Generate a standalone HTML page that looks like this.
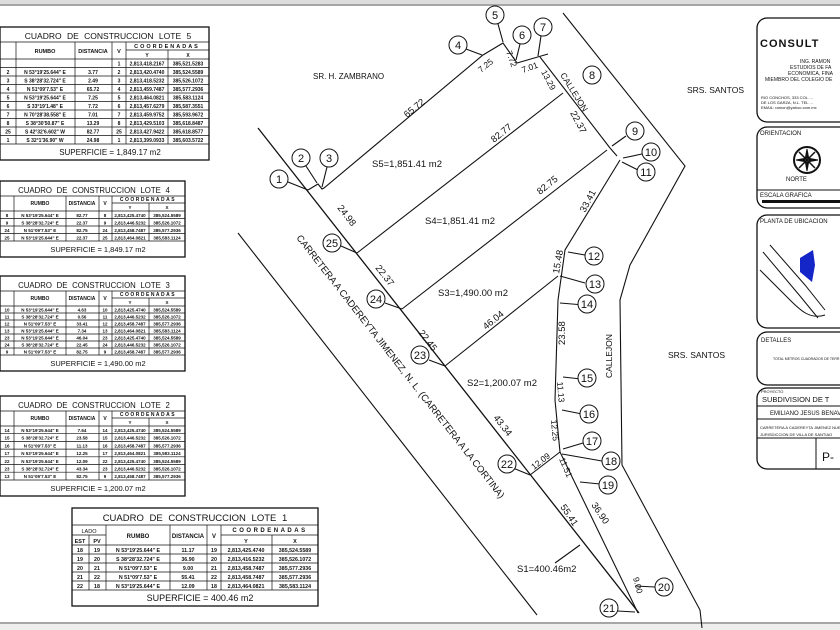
<!DOCTYPE html>
<html><head><meta charset="utf-8"><style>
html,body{margin:0;padding:0;background:#fff;width:840px;height:630px;overflow:hidden}
svg{display:block;font-family:"Liberation Sans",sans-serif}
.t line{stroke:#111;stroke-width:.7}
.t text{fill:#111;font-weight:bold;text-anchor:middle}
.c circle{fill:#fff;stroke:#111;stroke-width:1}
.c text{fill:#111;font-size:11px;text-anchor:middle}
</style></head><body>
<svg width="840" height="630" viewBox="0 0 840 630" xmlns="http://www.w3.org/2000/svg">
<rect x="0" y="0" width="840" height="4" fill="#ddd"/>
<line x1="0" y1="5" x2="840" y2="5" stroke="#888" stroke-width="1.5"/>
<line x1="0" y1="623" x2="840" y2="623" stroke="#888" stroke-width="1.5"/>
<rect x="0" y="624" width="840" height="6" fill="#eee"/>

<!-- TABLE LOTE 5 -->
<g class="t">
<rect x="0" y="27" width="209" height="133" fill="#fff" stroke="#111" stroke-width="1.3"/>
<line x1="0" y1="42" x2="209" y2="42"/><line x1="0" y1="59" x2="209" y2="59"/><line x1="0" y1="144" x2="209" y2="144"/>
<line x1="126" y1="50" x2="209" y2="50"/>
<line x1="16" y1="42" x2="16" y2="144"/><line x1="75" y1="42" x2="75" y2="144"/><line x1="112" y1="42" x2="112" y2="144"/><line x1="126" y1="42" x2="126" y2="144"/><line x1="168" y1="50" x2="168" y2="144"/>
<line x1="0" y1="67.5" x2="209" y2="67.5"/><line x1="0" y1="76" x2="209" y2="76"/><line x1="0" y1="84.5" x2="209" y2="84.5"/><line x1="0" y1="93" x2="209" y2="93"/><line x1="0" y1="101.5" x2="209" y2="101.5"/><line x1="0" y1="110" x2="209" y2="110"/><line x1="0" y1="118.5" x2="209" y2="118.5"/><line x1="0" y1="127" x2="209" y2="127"/><line x1="0" y1="135.5" x2="209" y2="135.5"/>
<text x="108" y="39" font-size="8.5" style="font-weight:normal" word-spacing="3">CUADRO DE CONSTRUCCION LOTE 5</text>
<text x="45" y="53" font-size="5.5">RUMBO</text><text x="93" y="53" font-size="5.5">DISTANCIA</text><text x="119" y="53" font-size="5.5">V</text>
<text x="167" y="48" font-size="5.5" letter-spacing="2">COORDENADAS</text><text x="147" y="57" font-size="5">Y</text><text x="188" y="57" font-size="5">X</text>
<g font-size="5">
<text x="119" y="65.5">1</text><text x="147" y="65.5">2,813,418.2167</text><text x="188" y="65.5">385,521.5283</text>
<text x="8" y="74">2</text><text x="45" y="74">N 53°19'25.644" E</text><text x="93" y="74">3.77</text><text x="119" y="74">2</text><text x="147" y="74">2,813,420.4740</text><text x="188" y="74">385,524.5589</text>
<text x="8" y="82.5">3</text><text x="45" y="82.5">S 38°28'32.724" E</text><text x="93" y="82.5">2.49</text><text x="119" y="82.5">3</text><text x="147" y="82.5">2,813,418.5232</text><text x="188" y="82.5">385,526.1072</text>
<text x="8" y="91">4</text><text x="45" y="91">N 51°09'7.53" E</text><text x="93" y="91">65.72</text><text x="119" y="91">4</text><text x="147" y="91">2,813,459.7487</text><text x="188" y="91">385,577.2936</text>
<text x="8" y="99.5">5</text><text x="45" y="99.5">N 53°19'25.644" E</text><text x="93" y="99.5">7.25</text><text x="119" y="99.5">5</text><text x="147" y="99.5">2,813,464.0821</text><text x="188" y="99.5">385,583.1124</text>
<text x="8" y="108">6</text><text x="45" y="108">S 33°19'1.48" E</text><text x="93" y="108">7.72</text><text x="119" y="108">6</text><text x="147" y="108">2,813,457.6279</text><text x="188" y="108">385,587.3551</text>
<text x="8" y="116.5">7</text><text x="45" y="116.5">N 70°28'38.558" E</text><text x="93" y="116.5">7.01</text><text x="119" y="116.5">7</text><text x="147" y="116.5">2,813,459.9752</text><text x="188" y="116.5">385,593.9672</text>
<text x="8" y="125">8</text><text x="45" y="125">S 38°30'50.87" E</text><text x="93" y="125">13.29</text><text x="119" y="125">8</text><text x="147" y="125">2,813,429.5103</text><text x="188" y="125">385,618.8487</text>
<text x="8" y="133.5">25</text><text x="45" y="133.5">S 42°32'6.602" W</text><text x="93" y="133.5">82.77</text><text x="119" y="133.5">25</text><text x="147" y="133.5">2,813,427.9422</text><text x="188" y="133.5">385,618.8577</text>
<text x="8" y="142">1</text><text x="45" y="142">S 32°1'36.90" W</text><text x="93" y="142">24.98</text><text x="119" y="142">1</text><text x="147" y="142">2,813,399.0933</text><text x="188" y="142">385,603.5722</text>
</g>
<text x="110" y="155" font-size="8" style="font-weight:normal">SUPERFICIE  =  1,849.17  m2</text>
</g>

<!-- TABLE LOTE 4 -->
<g class="t">
<rect x="0" y="181" width="185" height="76" fill="#fff" stroke="#111" stroke-width="1.3"/>
<line x1="0" y1="196" x2="185" y2="196"/><line x1="0" y1="211" x2="185" y2="211"/><line x1="0" y1="241" x2="185" y2="241"/>
<line x1="112" y1="203" x2="185" y2="203"/>
<line x1="14" y1="196" x2="14" y2="241"/><line x1="66" y1="196" x2="66" y2="241"/><line x1="99" y1="196" x2="99" y2="241"/><line x1="112" y1="196" x2="112" y2="241"/><line x1="149" y1="203" x2="149" y2="241"/>
<line x1="0" y1="218.5" x2="185" y2="218.5"/><line x1="0" y1="226" x2="185" y2="226"/><line x1="0" y1="233.5" x2="185" y2="233.5"/>
<text x="94" y="193" font-size="7.8" style="font-weight:normal" word-spacing="2.5">CUADRO DE CONSTRUCCION LOTE 4</text>
<text x="40" y="205" font-size="5">RUMBO</text><text x="82" y="205" font-size="5">DISTANCIA</text><text x="105" y="205" font-size="5">V</text>
<text x="148" y="201" font-size="5" letter-spacing="1.5">COORDENADAS</text><text x="130" y="209" font-size="4.5">Y</text><text x="167" y="209" font-size="4.5">X</text>
<g font-size="4.5">
<text x="7" y="217">8</text><text x="40" y="217">N 53°19'25.644" E</text><text x="82" y="217">82.77</text><text x="105" y="217">8</text><text x="130" y="217">2,813,425.4740</text><text x="167" y="217">385,524.5589</text>
<text x="7" y="224.5">9</text><text x="40" y="224.5">S 38°28'32.724" E</text><text x="82" y="224.5">22.37</text><text x="105" y="224.5">9</text><text x="130" y="224.5">2,813,446.5232</text><text x="167" y="224.5">385,526.1072</text>
<text x="7" y="232">24</text><text x="40" y="232">N 51°09'7.53" E</text><text x="82" y="232">82.75</text><text x="105" y="232">24</text><text x="130" y="232">2,813,458.7487</text><text x="167" y="232">385,577.2936</text>
<text x="7" y="239.5">25</text><text x="40" y="239.5">N 53°19'25.644" E</text><text x="82" y="239.5">22.37</text><text x="105" y="239.5">25</text><text x="130" y="239.5">2,813,464.0821</text><text x="167" y="239.5">385,583.1124</text>
</g>
<text x="98" y="252" font-size="7.5" style="font-weight:normal">SUPERFICIE  =  1,849.17  m2</text>
</g>

<!-- TABLE LOTE 3 -->
<g class="t">
<rect x="0" y="276" width="185" height="95" fill="#fff" stroke="#111" stroke-width="1.3"/>
<line x1="0" y1="291" x2="185" y2="291"/><line x1="0" y1="306" x2="185" y2="306"/><line x1="0" y1="355" x2="185" y2="355"/>
<line x1="112" y1="298" x2="185" y2="298"/>
<line x1="14" y1="291" x2="14" y2="355"/><line x1="66" y1="291" x2="66" y2="355"/><line x1="99" y1="291" x2="99" y2="355"/><line x1="112" y1="291" x2="112" y2="355"/><line x1="149" y1="298" x2="149" y2="355"/>
<line x1="0" y1="313" x2="185" y2="313"/><line x1="0" y1="320" x2="185" y2="320"/><line x1="0" y1="327" x2="185" y2="327"/><line x1="0" y1="334" x2="185" y2="334"/><line x1="0" y1="341" x2="185" y2="341"/><line x1="0" y1="348" x2="185" y2="348"/>
<text x="94" y="288" font-size="7.8" style="font-weight:normal" word-spacing="2.5">CUADRO DE CONSTRUCCION LOTE 3</text>
<text x="40" y="300" font-size="5">RUMBO</text><text x="82" y="300" font-size="5">DISTANCIA</text><text x="105" y="300" font-size="5">V</text>
<text x="148" y="296" font-size="5" letter-spacing="1.5">COORDENADAS</text><text x="130" y="304" font-size="4.5">Y</text><text x="167" y="304" font-size="4.5">X</text>
<g font-size="4.5">
<text x="7" y="311.5">10</text><text x="40" y="311.5">N 53°19'25.644" E</text><text x="82" y="311.5">4.63</text><text x="105" y="311.5">10</text><text x="130" y="311.5">2,813,425.4740</text><text x="167" y="311.5">385,524.5589</text>
<text x="7" y="318.5">11</text><text x="40" y="318.5">S 38°28'32.724" E</text><text x="82" y="318.5">0.56</text><text x="105" y="318.5">11</text><text x="130" y="318.5">2,813,446.5232</text><text x="167" y="318.5">385,526.1072</text>
<text x="7" y="325.5">12</text><text x="40" y="325.5">N 51°09'7.53" E</text><text x="82" y="325.5">33.41</text><text x="105" y="325.5">12</text><text x="130" y="325.5">2,813,458.7487</text><text x="167" y="325.5">385,577.2936</text>
<text x="7" y="332.5">13</text><text x="40" y="332.5">N 53°19'25.644" E</text><text x="82" y="332.5">7.34</text><text x="105" y="332.5">13</text><text x="130" y="332.5">2,813,464.0821</text><text x="167" y="332.5">385,583.1124</text>
<text x="7" y="339.5">23</text><text x="40" y="339.5">N 53°19'25.644" E</text><text x="82" y="339.5">46.04</text><text x="105" y="339.5">23</text><text x="130" y="339.5">2,813,425.4740</text><text x="167" y="339.5">385,524.5589</text>
<text x="7" y="346.5">24</text><text x="40" y="346.5">S 38°28'32.724" E</text><text x="82" y="346.5">22.45</text><text x="105" y="346.5">24</text><text x="130" y="346.5">2,813,446.5232</text><text x="167" y="346.5">385,526.1072</text>
<text x="7" y="353.5">9</text><text x="40" y="353.5">N 51°09'7.53" E</text><text x="82" y="353.5">82.75</text><text x="105" y="353.5">9</text><text x="130" y="353.5">2,813,458.7487</text><text x="167" y="353.5">385,577.2936</text>
</g>
<text x="98" y="366" font-size="7.5" style="font-weight:normal">SUPERFICIE  =  1,490.00  m2</text>
</g>

<!-- TABLE LOTE 2 -->
<g class="t">
<rect x="0" y="396" width="185" height="100" fill="#fff" stroke="#111" stroke-width="1.3"/>
<line x1="0" y1="411" x2="185" y2="411"/><line x1="0" y1="426" x2="185" y2="426"/><line x1="0" y1="480" x2="185" y2="480"/>
<line x1="112" y1="418" x2="185" y2="418"/>
<line x1="14" y1="411" x2="14" y2="480"/><line x1="66" y1="411" x2="66" y2="480"/><line x1="99" y1="411" x2="99" y2="480"/><line x1="112" y1="411" x2="112" y2="480"/><line x1="149" y1="418" x2="149" y2="480"/>
<line x1="0" y1="433.7" x2="185" y2="433.7"/><line x1="0" y1="441.4" x2="185" y2="441.4"/><line x1="0" y1="449.1" x2="185" y2="449.1"/><line x1="0" y1="456.8" x2="185" y2="456.8"/><line x1="0" y1="464.5" x2="185" y2="464.5"/><line x1="0" y1="472.2" x2="185" y2="472.2"/>
<text x="94" y="408" font-size="7.8" style="font-weight:normal" word-spacing="2.5">CUADRO DE CONSTRUCCION LOTE 2</text>
<text x="40" y="420" font-size="5">RUMBO</text><text x="82" y="420" font-size="5">DISTANCIA</text><text x="105" y="420" font-size="5">V</text>
<text x="148" y="416" font-size="5" letter-spacing="1.5">COORDENADAS</text><text x="130" y="424" font-size="4.5">Y</text><text x="167" y="424" font-size="4.5">X</text>
<g font-size="4.5">
<text x="7" y="432">14</text><text x="40" y="432">N 53°19'25.644" E</text><text x="82" y="432">7.64</text><text x="105" y="432">14</text><text x="130" y="432">2,813,425.4740</text><text x="167" y="432">385,524.5589</text>
<text x="7" y="439.7">15</text><text x="40" y="439.7">S 38°28'32.724" E</text><text x="82" y="439.7">23.58</text><text x="105" y="439.7">15</text><text x="130" y="439.7">2,813,446.5232</text><text x="167" y="439.7">385,526.1072</text>
<text x="7" y="447.4">16</text><text x="40" y="447.4">N 51°09'7.53" E</text><text x="82" y="447.4">11.13</text><text x="105" y="447.4">16</text><text x="130" y="447.4">2,813,458.7487</text><text x="167" y="447.4">385,577.2936</text>
<text x="7" y="455.1">17</text><text x="40" y="455.1">N 53°19'25.644" E</text><text x="82" y="455.1">12.25</text><text x="105" y="455.1">17</text><text x="130" y="455.1">2,813,464.0821</text><text x="167" y="455.1">385,583.1124</text>
<text x="7" y="462.8">22</text><text x="40" y="462.8">N 53°19'25.644" E</text><text x="82" y="462.8">12.09</text><text x="105" y="462.8">22</text><text x="130" y="462.8">2,813,425.4740</text><text x="167" y="462.8">385,524.5589</text>
<text x="7" y="470.5">23</text><text x="40" y="470.5">S 38°28'32.724" E</text><text x="82" y="470.5">43.34</text><text x="105" y="470.5">23</text><text x="130" y="470.5">2,813,446.5232</text><text x="167" y="470.5">385,526.1072</text>
<text x="7" y="478.2">13</text><text x="40" y="478.2">N 51°09'7.53" E</text><text x="82" y="478.2">82.75</text><text x="105" y="478.2">9</text><text x="130" y="478.2">2,813,458.7487</text><text x="167" y="478.2">385,577.2936</text>
</g>
<text x="98" y="491" font-size="7.5" style="font-weight:normal">SUPERFICIE  =  1,200.07  m2</text>
</g>

<!-- TABLE LOTE 1 -->
<g class="t">
<rect x="72" y="508" width="246" height="98" fill="#fff" stroke="#111" stroke-width="1.3"/>
<line x1="72" y1="525" x2="318" y2="525"/><line x1="72" y1="545" x2="318" y2="545"/><line x1="72" y1="590" x2="318" y2="590"/>
<line x1="221" y1="535" x2="318" y2="535"/><line x1="72" y1="535" x2="106" y2="535"/>
<line x1="89" y1="535" x2="89" y2="590"/><line x1="106" y1="525" x2="106" y2="590"/><line x1="170" y1="525" x2="170" y2="590"/><line x1="207" y1="525" x2="207" y2="590"/><line x1="221" y1="525" x2="221" y2="590"/><line x1="272" y1="535" x2="272" y2="590"/>
<line x1="72" y1="554" x2="318" y2="554"/><line x1="72" y1="563" x2="318" y2="563"/><line x1="72" y1="572" x2="318" y2="572"/><line x1="72" y1="581" x2="318" y2="581"/>
<text x="195" y="521" font-size="9.5" style="font-weight:normal" word-spacing="3">CUADRO DE CONSTRUCCION LOTE 1</text>
<text x="89" y="533" font-size="5.5" style="font-weight:normal">LADO</text><text x="80" y="543" font-size="5.5">EST</text><text x="97" y="543" font-size="5.5">PV</text>
<text x="138" y="538" font-size="6">RUMBO</text><text x="188" y="538" font-size="6">DISTANCIA</text><text x="214" y="538" font-size="6">V</text>
<text x="270" y="532" font-size="6" letter-spacing="2.5">COORDENADAS</text><text x="246" y="543" font-size="5.5">Y</text><text x="295" y="543" font-size="5.5">X</text>
<g font-size="5.3">
<text x="80" y="552">18</text><text x="97" y="552">19</text><text x="138" y="552">N 53°19'25.644" E</text><text x="188" y="552">11.17</text><text x="214" y="552">19</text><text x="246" y="552">2,813,425.4740</text><text x="295" y="552">385,524.5589</text>
<text x="80" y="561">19</text><text x="97" y="561">20</text><text x="138" y="561">S 38°28'32.724" E</text><text x="188" y="561">36.90</text><text x="214" y="561">20</text><text x="246" y="561">2,813,416.5232</text><text x="295" y="561">385,526.1072</text>
<text x="80" y="570">20</text><text x="97" y="570">21</text><text x="138" y="570">N 51°09'7.53" E</text><text x="188" y="570">9.00</text><text x="214" y="570">21</text><text x="246" y="570">2,813,458.7487</text><text x="295" y="570">385,577.2936</text>
<text x="80" y="579">21</text><text x="97" y="579">22</text><text x="138" y="579">N 51°09'7.53" E</text><text x="188" y="579">55.41</text><text x="214" y="579">22</text><text x="246" y="579">2,813,458.7487</text><text x="295" y="579">385,577.2936</text>
<text x="80" y="588">22</text><text x="97" y="588">18</text><text x="138" y="588">N 53°19'25.644" E</text><text x="188" y="588">12.09</text><text x="214" y="588">18</text><text x="246" y="588">2,813,464.0821</text><text x="295" y="588">385,583.1124</text>
</g>
<text x="200" y="601" font-size="9" style="font-weight:normal">SUPERFICIE  =  400.46  m2</text>
</g>

<g stroke="#111" stroke-width="1.1" fill="none">
<line x1="258" y1="128" x2="639" y2="613" stroke-width="1.3"/>
<line x1="238" y1="233" x2="537" y2="615"/>
<polyline points="308,190 318,184 322,189 324,188 483,55 503,43 517,63 548,54"/>
<line x1="540" y1="57" x2="610" y2="148"/>
<line x1="563" y1="93" x2="357" y2="253"/>
<line x1="607" y1="150" x2="402" y2="309"/>
<polyline points="620,160 565,250 558,300 555,400 560,452 638,613"/>
<line x1="558" y1="276" x2="445" y2="366"/>
<line x1="560" y1="452" x2="530" y2="475"/>
<polyline points="563,13 685,166 630,265 620,300 622,465 700,610 702,628"/>
<line x1="617" y1="156" x2="610" y2="148"/>
<line x1="580" y1="545" x2="555" y2="563"/>
<line x1="288" y1="182" x2="308" y2="190"/>
<line x1="306" y1="166" x2="317" y2="183"/>
<line x1="327" y1="167" x2="322" y2="187"/>
<line x1="466" y1="49" x2="482" y2="55"/>
<line x1="498" y1="24" x2="503" y2="42"/>
<line x1="520" y1="44" x2="516" y2="60"/>
<line x1="541" y1="36" x2="538" y2="56"/>
<line x1="626" y1="136" x2="612" y2="146"/>
<line x1="642" y1="154" x2="623" y2="158"/>
<line x1="638" y1="170" x2="622" y2="162"/>
<line x1="585" y1="255" x2="568" y2="252"/>
<line x1="585" y1="283" x2="560" y2="276"/>
<line x1="584" y1="305" x2="560" y2="303"/>
<line x1="581" y1="379" x2="563" y2="377"/>
<line x1="582" y1="414" x2="562" y2="410"/>
<line x1="583" y1="443" x2="563" y2="449"/>
<line x1="602" y1="461" x2="562" y2="454"/>
<line x1="600" y1="484" x2="580" y2="482"/>
<line x1="655" y1="587" x2="635" y2="586"/>
<line x1="600" y1="610" x2="635" y2="612"/>
<line x1="341" y1="246" x2="357" y2="253"/>
<line x1="385" y1="303" x2="402" y2="309"/>
<line x1="429" y1="360" x2="445" y2="366"/>
<line x1="513" y1="468" x2="530" y2="475"/>
</g>
<g class="c">
<circle cx="279" cy="179" r="9"/><text x="279" y="183">1</text>
<circle cx="301" cy="158" r="9"/><text x="301" y="162">2</text>
<circle cx="329" cy="158" r="9"/><text x="329" y="162">3</text>
<circle cx="458" cy="45" r="9"/><text x="458" y="49">4</text>
<circle cx="495" cy="15" r="9"/><text x="495" y="19">5</text>
<circle cx="522" cy="35" r="9"/><text x="522" y="39">6</text>
<circle cx="543" cy="27" r="9"/><text x="543" y="31">7</text>
<circle cx="592" cy="75" r="9"/><text x="592" y="79">8</text>
<circle cx="635" cy="131" r="9"/><text x="635" y="135">9</text>
<circle cx="651" cy="152" r="9"/><text x="651" y="156">10</text>
<circle cx="646" cy="172" r="9"/><text x="646" y="176">11</text>
<circle cx="594" cy="256" r="9"/><text x="594" y="260">12</text>
<circle cx="595" cy="284" r="9"/><text x="595" y="288">13</text>
<circle cx="587" cy="304" r="9"/><text x="587" y="308">14</text>
<circle cx="587" cy="378" r="9"/><text x="587" y="382">15</text>
<circle cx="589" cy="414" r="9"/><text x="589" y="418">16</text>
<circle cx="592" cy="441" r="9"/><text x="592" y="445">17</text>
<circle cx="611" cy="461" r="9"/><text x="611" y="465">18</text>
<circle cx="608" cy="485" r="9"/><text x="608" y="489">19</text>
<circle cx="664" cy="587" r="9"/><text x="664" y="591">20</text>
<circle cx="609" cy="608" r="9"/><text x="609" y="612">21</text>
<circle cx="507" cy="464" r="9"/><text x="507" y="468">22</text>
<circle cx="420" cy="355" r="9"/><text x="420" y="359">23</text>
<circle cx="376" cy="299" r="9"/><text x="376" y="303">24</text>
<circle cx="332" cy="243" r="9"/><text x="332" y="247">25</text>
</g>
<g font-size="9.5" fill="#111">
<text x="313" y="79" font-size="8">SR. H. ZAMBRANO</text>
<text x="687" y="93" font-size="8.5">SRS. SANTOS</text>
<text x="668" y="358" font-size="8.5">SRS. SANTOS</text>
<text x="372" y="167">S5=1,851.41  m2</text>
<text x="425" y="224">S4=1,851.41  m2</text>
<text x="438" y="296">S3=1,490.00  m2</text>
<text x="467" y="386">S2=1,200.07  m2</text>
<text x="517" y="572">S1=400.46m2</text>
<text transform="translate(296,238) rotate(52)" font-size="9.6">CARRETERA  A  CADEREYTA  JIMENEZ,  N.  L.  (CARRETERA  A  LA  CORTINA)</text>
<text transform="translate(560,75) rotate(58)" font-size="8.5">CALLEJON</text>
<text transform="translate(612,378) rotate(-90)" font-size="8.5">CALLEJON</text>
<text transform="translate(407,118) rotate(-39)">65.72</text>
<text transform="translate(494,143) rotate(-39)">82.77</text>
<text transform="translate(540,195) rotate(-39)">82.75</text>
<text transform="translate(486,330) rotate(-39)">46.04</text>
<text transform="translate(481,73) rotate(-39)" font-size="8.5">7.25</text>
<text transform="translate(506,52) rotate(70)" font-size="8.5">7.72</text>
<text transform="translate(523,73) rotate(-20)" font-size="8.5">7.01</text>
<text transform="translate(541,72) rotate(62)" font-size="8.5">13.29</text>
<text transform="translate(570,113) rotate(62)">22.37</text>
<text transform="translate(585,213) rotate(-62)">33.41</text>
<text transform="translate(559,274) rotate(-80)">15.48</text>
<text transform="translate(565,345) rotate(-90)">23.58</text>
<text transform="translate(557,382) rotate(85)" font-size="8.5">11.13</text>
<text transform="translate(551,420) rotate(85)" font-size="8.5">12.25</text>
<text transform="translate(534,470) rotate(-38)" font-size="8.5">12.09</text>
<text transform="translate(559,459) rotate(67)" font-size="8.5">11.51</text>
<text transform="translate(591,505) rotate(56)">36.90</text>
<text transform="translate(560,507) rotate(56)">55.41</text>
<text transform="translate(633,578) rotate(75)" font-size="8.5">9.00</text>
<text transform="translate(493,418) rotate(52)">43.34</text>
<text transform="translate(375,268) rotate(52)">22.37</text>
<text transform="translate(337,208) rotate(52)">24.98</text>
<text transform="translate(418,333) rotate(52)">22.45</text>
</g>
<g stroke="#111" stroke-width="1.3" fill="#fff">
<rect x="757" y="18" width="95" height="104" rx="10"/>
<rect x="757" y="127" width="95" height="81" rx="10"/>
<rect x="757" y="215" width="95" height="113" rx="10"/>
<rect x="757" y="332" width="95" height="53" rx="10"/>
<rect x="757" y="388" width="95" height="81" rx="10"/>
</g>
<g fill="#111" font-size="5">
<text x="760" y="47" font-size="11" font-weight="bold" letter-spacing="1">CONSULT</text>
<text x="800" y="63">ING. RAMON</text>
<text x="790" y="69">ESTUDIOS DE FA</text>
<text x="788" y="75">ECONOMICA, FINA</text>
<text x="765" y="81">MIEMBRO DEL COLEGIO DE</text>
<text x="761" y="99" font-size="4">RIO CONCHOS, 333 COL. ...</text>
<text x="761" y="104" font-size="4">DE LOS GARZA, N.L. TEL ...</text>
<text x="761" y="109" font-size="4">EMAIL: ramon@yahoo.com.mx</text>
<text x="760" y="135" font-size="6">ORIENTACION</text>
<text x="786" y="181" font-size="6">NORTE</text>
<line x1="757" y1="190" x2="840" y2="190" stroke="#111"/>
<text x="760" y="197" font-size="6">ESCALA GRAFICA</text>
<rect x="762" y="200" width="78" height="3"/>
<text x="760" y="223" font-size="6">PLANTA DE UBICACION</text>
<text x="761" y="342" font-size="6">DETALLES</text>
<text x="773" y="360" font-size="3.5">TOTAL METROS CUADRADOS DE TERR</text>
<text x="761" y="393" font-size="4">PROYECTO</text>
<text x="762" y="402" font-size="7.5">SUBDIVISION DE T</text>
<line x1="757" y1="406" x2="840" y2="406" stroke="#111"/>
<text x="770" y="415" font-size="6">EMILIANO JESUS BENAV</text>
<line x1="757" y1="419" x2="840" y2="419" stroke="#111"/>
<text x="760" y="429" font-size="4">CARRETERA A CADEREYTA JIMENEZ NUEVO</text>
<text x="760" y="436" font-size="4">JURISDICCION DE VILLA DE SANTIAG</text>
<line x1="757" y1="438" x2="840" y2="438" stroke="#111"/>
<line x1="816" y1="438" x2="816" y2="469" stroke="#111"/>
<text x="822" y="461" font-size="12">P-</text>
</g>
<g transform="translate(807,160)" stroke="#111" fill="none">
<circle r="13" stroke-width="2"/>
<path d="M0,-11 L2,0 L0,11 L-2,0Z M-11,0 L0,2 L11,0 L0,-2Z" fill="#111"/>
<path d="M-8,-8 L8,8 M8,-8 L-8,8" stroke-width="1.5"/>
</g>
<g stroke="#111" fill="none" stroke-width="1">
<path d="M763,252 L800,296 L818,318"/><path d="M770,245 L805,285 L825,310"/>
<path d="M760,270 C770,280 780,290 790,300 C800,310 810,320 825,315"/>
</g>
<path d="M800,258 L813,250 L815,265 L812,282 L800,272Z" fill="#1426c8"/>
</svg>
</body></html>
